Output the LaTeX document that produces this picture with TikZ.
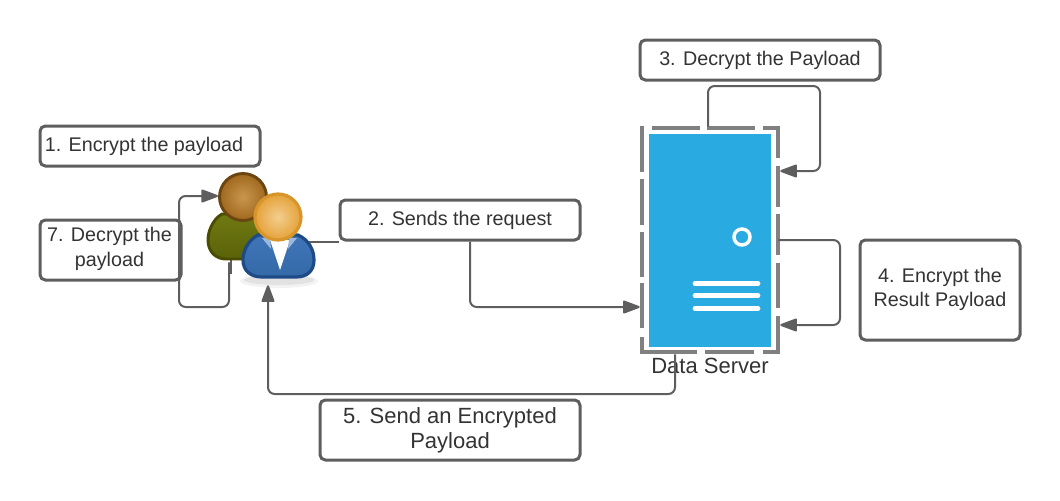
\documentclass[tikz,border=0pt]{standalone}
\usepackage{fontspec}
\setmainfont{Liberation Sans}
\usetikzlibrary{arrows.meta,calc}
\definecolor{ink}{HTML}{333333}
\definecolor{edge}{HTML}{5E5E5E}
\definecolor{frame}{HTML}{808080}
\definecolor{srvblue}{HTML}{29ABE2}
\definecolor{olivetop}{HTML}{6F7A12}
\definecolor{olivelow}{HTML}{5A6208}
\definecolor{oliveline}{HTML}{4A4C02}
\definecolor{browncore}{HTML}{C9954C}
\definecolor{brownrim}{HTML}{A0681F}
\definecolor{brownline}{HTML}{6B4610}
\definecolor{goldcore}{HTML}{F3CE8E}
\definecolor{goldrim}{HTML}{E5A23A}
\definecolor{goldline}{HTML}{D8952A}
\definecolor{bluetop}{HTML}{3F74B8}
\definecolor{bluelow}{HTML}{356AA8}
\definecolor{blueline}{HTML}{1E4A86}
\definecolor{collar}{HTML}{9DB8D8}
\tikzset{
  tbox/.style={draw=edge,line width=2.25pt,rounded corners=4pt,fill=white,text=ink,align=center,inner sep=0pt,font=\fontsize{14.8}{18}\selectfont},
  bigbox/.style={tbox,font=\fontsize{16.5}{19.5}\selectfont},
  conn/.style={draw=edge,line width=1.5pt,rounded corners=5pt},
  arr/.style={conn,-{Triangle[length=14pt,width=10pt,round=false]}},
  dashseg/.style={draw=frame,line width=3pt},
  srvline/.style={draw=white,line width=3.6pt,line cap=round}
}
\begin{document}
\begin{tikzpicture}[x=0.75pt,y=-0.75pt]
\useasboundingbox (0,0) rectangle (1060,500);
% invisible anchors of the two actors
\node[inner sep=0pt,minimum width=81pt,minimum height=84pt] (user) at (261,229) {};
\node[inner sep=0pt,minimum width=102pt,minimum height=168.75pt] (srv) at (710,239.5) {};
% boxes
\node[tbox,minimum width=165pt,minimum height=30pt] (b1) at (150,146) {\raisebox{1pt}{1. Encrypt the payload}\hspace*{9pt}};
\node[tbox,minimum width=105.75pt,minimum height=45pt] (b7) at (110.5,250) {\begin{tabular}{@{}c@{}}\raisebox{1pt}{7. Decrypt the}\\payload\end{tabular}\hspace*{1.5pt}};
\node[tbox,minimum width=180pt,minimum height=30pt] (b2) at (460,220) {\raisebox{1.5pt}{2. Sends the request}};
\node[tbox,minimum width=180pt,minimum height=30pt] (b3) at (760,60) {\raisebox{1.5pt}{3. Decrypt the Payload}};
\node[tbox,minimum width=120pt,minimum height=75pt] (b4) at (940,290) {\raisebox{4.6pt}{\begin{tabular}{@{}c@{}}4. Encrypt the\\Result Payload\end{tabular}}};
\node[bigbox,minimum width=195pt,minimum height=45pt] (b5) at (450,430) {\raisebox{-0.6pt}{5. Send an Encrypted}\\Payload};
% server
\fill[srvblue] (649,134) rectangle (771,347);
\draw[white,line width=2.6pt,fill=srvblue] (742,237) circle (8);
\draw[srvline] (695,283.5) -- (758,283.5);
\draw[srvline] (695,295.5) -- (758,295.5);
\draw[srvline] (695,308.5) -- (758,308.5);
% dashed frame
\draw[dashseg] (642,126) -- (642,172) (642,179) -- (642,225) (642,232) -- (642,277) (642,283) -- (642,328);
\draw[dashseg] (640,352) -- (697,352) (642,337) -- (642,352);
\draw[dashseg] (652,128) -- (700,128) (707,128) -- (755,128) (763,128) -- (779.5,128);
\draw[dashseg] (778,128) -- (778,158) (778,166) -- (778,207) (778,214) -- (778,255) (778,263) -- (778,308) (778,316) -- (778,353.5);
\draw[dashseg] (705,352) -- (754,352) (763,352) -- (778,352);
\node[text=ink,inner sep=0pt,font=\fontsize{16.5}{19.5}\selectfont] (srvlabel) at (710,366) {Data Server};
% connectors
\draw[arr] ($(user.south)+(-32,-23)$) -- (229,307) -- (179,307) -- (179,196) -- (218,196);
\draw[conn] ($(user.east |- b2.south)+(-8,0)$) -- (b2.west |- b2.south);
\draw[arr] ($(b2.south)+(10,0)$) |- ($(srv.west |- 0,307)+(-2,0)$);
\draw[arr] ($(srv.north)+(-2,0)$) -- (708,86) -- (820,86) -- (820,171) -- ($(srv.east |- 0,171)+(2,0)$);
\draw[arr] (srv.east |- 0,240) -- (840,240) -- (840,325) -- ($(srv.east |- 0,325)+(2,0)$);
\draw[arr] ($(srv.south)+(-35,2)$) -- (675,394) -- (268,394) -- (user.south -| 268,284);
% back person
\draw[edge,line width=1.4pt] (231,260) -- (231,274);
\shade[top color=olivetop,bottom color=olivelow,draw=oliveline,line width=2.2pt]
  (222,214) .. controls (212,220) and (208,232) .. (208,240)
  .. controls (208,252) and (216,259) .. (226,259) -- (262,259) -- (268,225) -- (262,214) -- cycle;
\shade[inner color=browncore,outer color=brownrim,draw=brownline,line width=2.2pt] (243,197) circle (23.5);
% front person
\fill[gray,opacity=.10] (279,281) ellipse (39 and 7);
\fill[gray,opacity=.14] (279,280) ellipse (35 and 5);
\shade[top color=bluetop,bottom color=bluelow,draw=blueline,line width=2.4pt]
  (258,235) .. controls (247,241) and (243,252) .. (243,260)
  .. controls (243,271) and (251,277) .. (262,277) -- (296,277)
  .. controls (307,277) and (314,271) .. (314,260)
  .. controls (314,250) and (309,240) .. (298,235) -- cycle;
\fill[white] (270,240) -- (290,240) -- (280,270) -- cycle;
\fill[collar] (262,238) -- (270,238) -- (271,249) -- cycle (297,238) -- (289,238) -- (288,249) -- cycle;
\shade[inner color=goldcore,outer color=goldrim,draw=goldline,line width=2.4pt] (278,217) circle (23);
\end{tikzpicture}
\end{document}
